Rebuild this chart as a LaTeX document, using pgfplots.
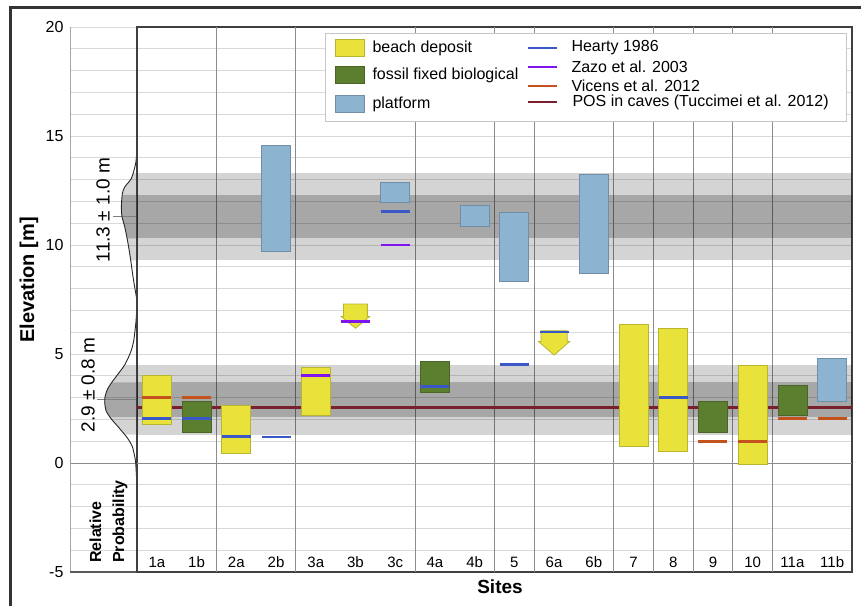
\documentclass[border=0pt]{standalone}
\usepackage{fontspec}
\setmainfont{Liberation Sans}
\usepackage{pgfplots}
\pgfplotsset{compat=1.18}

\definecolor{cbeach}{HTML}{E8E23A}
\definecolor{cfossil}{HTML}{5B7F2F}
\definecolor{cplatf}{HTML}{8CB3D0}
\definecolor{chearty}{HTML}{3A58C6}
\definecolor{czazo}{HTML}{8014F0}
\definecolor{cvicens}{HTML}{C4521C}
\definecolor{cpos}{HTML}{7A1F2C}
\definecolor{csep}{HTML}{8C8C8C}
\definecolor{cgrid}{HTML}{D9D9D9}

% colour, site index, bottom, top
\newcommand{\sitebar}[4]{%
  \pgfmathsetmacro\xl{#2-0.365}\pgfmathsetmacro\xr{#2+0.365}%
  \addplot[fill=#1, draw=#1!80!black, line width=0.8pt] coordinates {(\xl,#3) (\xr,#3) (\xr,#4) (\xl,#4)} -- cycle;}
% colour, site index, elevation
\newcommand{\elev}[3]{%
  \pgfmathsetmacro\xl{#2-0.365}\pgfmathsetmacro\xr{#2+0.365}%
  \addplot[#1, line width=2.6pt] coordinates {(\xl,#3) (\xr,#3)};}
% site, top, neck, tip, half body, half head
\newcommand{\downarr}[6]{%
  \pgfmathsetmacro\xa{#1-#5}\pgfmathsetmacro\xb{#1+#5}%
  \pgfmathsetmacro\xc{#1-#6}\pgfmathsetmacro\xd{#1+#6}%
  \addplot[fill=cbeach, draw=cbeach!80!black, line width=0.8pt] coordinates {(\xa,#2) (\xb,#2) (\xb,#3) (\xd,#3) (#1,#4) (\xc,#3) (\xa,#3)} -- cycle;}

\begin{document}
\begin{tikzpicture}
\useasboundingbox (-137pt,-33pt) rectangle (724pt,572pt);

% relative probability panel
\begin{axis}[
  at={(0pt,0pt)}, anchor=south east, scale only axis,
  width=67pt, height=545pt,
  xmin=0, xmax=67, x dir=reverse, ymin=-5, ymax=20,
  xtick=\empty, ytick={-5,0,...,20}, minor y tick num=4,
  ymajorgrids, yminorgrids,
  major grid style={draw=cgrid, line width=0.8pt},
  minor grid style={draw=cgrid, line width=0.8pt},
  major tick length=0, minor tick length=0,
  axis line style={draw=none},
  /pgf/number format/assume math mode=true,
  yticklabel style={font=\fontsize{16}{18}\selectfont, xshift=-3pt},
]
% 2 sigma and 1 sigma bands right of the curve
\addplot[draw=none, fill=black, fill opacity=0.17] coordinates {(0,1.3) (12.25,1.3) (15,1.45) (19,1.67) (23.5,1.9) (27.3,2.12) (30.5,2.35) (31.8,2.58) (32.3,2.8) (32.2,2.97) (31,3.2) (29,3.43) (25.5,3.68) (22.3,3.88) (17,4.2) (12.3,4.5) (0,4.5)} -- cycle;
\addplot[draw=none, fill=black, fill opacity=0.21] coordinates {(0,2.1) (26.95,2.1) (27.3,2.12) (30.5,2.35) (31.8,2.58) (32.3,2.8) (32.2,2.97) (31,3.2) (29,3.43) (25.5,3.68) (25.2,3.7) (0,3.7)} -- cycle;
\addplot[draw=none, fill=black, fill opacity=0.17] coordinates {(0,9.3) (6.27,9.3) (9,10.08) (12.3,10.84) (15,11.3) (15.6,11.76) (14.6,12.37) (12,12.68) (5.6,13.06) (4.1,13.3) (0,13.3)} -- cycle;
\addplot[draw=none, fill=black, fill opacity=0.21] coordinates {(0,10.3) (9.96,10.3) (12.3,10.84) (15,11.3) (15.6,11.76) (14.7,12.3) (0,12.3)} -- cycle;
\addplot[csep, line width=1pt] coordinates {(67,0) (0,0)};
\addplot[gray, line width=0.7pt] coordinates {(40,2.9) (0,2.9)};
\addplot[gray, line width=0.7pt] coordinates {(24,11.3) (0,11.3)};
\addplot[black!85, line width=0.9pt, smooth] coordinates {
  (0,-5) (0,-1.2) (0.3,-0.8) (0.8,-0.4) (1.5,0.1) (3,0.45) (4.6,0.75)
  (7.5,1.0) (10.6,1.21) (15,1.45) (19,1.67) (23.5,1.9) (27.3,2.12)
  (30.5,2.35) (31.8,2.58) (32.3,2.8) (32.2,2.97) (31,3.2) (29,3.43)
  (25.5,3.68) (22.3,3.88) (17,4.2) (12.3,4.5) (8.5,4.85) (5.6,5.18)
  (3.5,5.55) (2.3,5.95) (1,6.5) (0.3,7.0) (0,7.4) (1.3,7.8) (4,8.55)
  (6.3,9.31) (9,10.08) (12.3,10.84) (15,11.3) (15.6,11.76) (14.6,12.37)
  (12,12.68) (5.6,13.06) (1.3,13.75) (0.3,14.3) (0,14.8) (0,20)};
\draw[gray!70, line width=0.8pt] (axis cs:67,-5) -- (axis cs:67,20);
\draw[black!65, line width=1.1pt] (axis cs:67,-5) -- (axis cs:0,-5);
\end{axis}

% sites panel
\begin{axis}[
  at={(0pt,0pt)}, anchor=south west, scale only axis,
  width=715pt, height=545pt,
  xmin=-0.5, xmax=17.5, ymin=-5, ymax=20,
  xtick={0,...,17},
  xticklabels={1a,1b,2a,2b,3a,3b,3c,4a,4b,5,6a,6b,7,8,9,10,11a,11b},
  ytick={-5,0,...,20}, minor y tick num=4, yticklabels={},
  ymajorgrids, yminorgrids,
  major grid style={draw=cgrid, line width=0.8pt},
  minor grid style={draw=cgrid, line width=0.8pt},
  extra x ticks={1.5,3.5,6.5,8.5,9.5,11.5,12.5,13.5,14.5,15.5},
  extra x tick labels={},
  extra x tick style={grid=major, major grid style={draw=csep, line width=0.9pt}},
  major tick length=0, minor tick length=0,
  axis line style={draw=black!75, line width=1.1pt},
  xticklabel style={font=\fontsize{15}{17}\selectfont, anchor=base, yshift=4.5pt},
]
% grey bands (1 and 2 sigma)
\addplot[draw=none, fill=black, fill opacity=0.17] coordinates {(-0.5,1.3) (17.5,1.3) (17.5,4.5) (-0.5,4.5)} -- cycle;
\addplot[draw=none, fill=black, fill opacity=0.21] coordinates {(-0.5,2.1) (17.5,2.1) (17.5,3.7) (-0.5,3.7)} -- cycle;
\addplot[draw=none, fill=black, fill opacity=0.17] coordinates {(-0.5,9.3) (17.5,9.3) (17.5,13.3) (-0.5,13.3)} -- cycle;
\addplot[draw=none, fill=black, fill opacity=0.21] coordinates {(-0.5,10.3) (17.5,10.3) (17.5,12.3) (-0.5,12.3)} -- cycle;
\addplot[csep, line width=1pt] coordinates {(-0.5,0) (17.5,0)};
% POS in caves
\addplot[cpos, line width=2.6pt] coordinates {(-0.5,2.55) (17.5,2.55)};
% beach deposit
\sitebar{cbeach}{0}{1.77}{4.0}
\sitebar{cbeach}{2}{0.44}{2.66}
\sitebar{cbeach}{4}{2.2}{4.4}
\sitebar{cbeach}{12}{0.78}{6.38}
\sitebar{cbeach}{13}{0.54}{6.16}
\sitebar{cbeach}{15}{-0.06}{4.46}
\downarr{5}{7.29}{6.72}{6.18}{0.3}{0.36}
\downarr{10}{6.07}{5.57}{4.95}{0.33}{0.39}
% fossil fixed biological
\sitebar{cfossil}{1}{1.41}{2.84}
\sitebar{cfossil}{7}{3.22}{4.68}
\sitebar{cfossil}{14}{1.42}{2.81}
\sitebar{cfossil}{16}{2.19}{3.55}
% platform
\sitebar{cplatf}{3}{9.69}{14.59}
\sitebar{cplatf}{6}{11.96}{12.89}
\sitebar{cplatf}{8}{10.86}{11.83}
\sitebar{cplatf}{9}{8.35}{11.48}
\sitebar{cplatf}{11}{8.7}{13.24}
\sitebar{cplatf}{17}{2.84}{4.82}
% Hearty 1986
\elev{chearty}{0}{2.03}
\elev{chearty}{1}{2.03}
\elev{chearty}{2}{1.21}
\elev{chearty}{3}{1.2}
\elev{chearty}{6}{11.53}
\elev{chearty}{7}{3.5}
\elev{chearty}{9}{4.53}
\elev{chearty}{10}{6.0}
\elev{chearty}{13}{3.0}
% Zazo et al. 2003
\elev{czazo}{4}{4.02}
\elev{czazo}{5}{6.5}
\elev{czazo}{6}{10.0}
% Vicens et al. 2012
\elev{cvicens}{0}{3.0}
\elev{cvicens}{1}{3.0}
\elev{cvicens}{14}{1.0}
\elev{cvicens}{15}{1.0}
\elev{cvicens}{16}{2.03}
\elev{cvicens}{17}{2.03}
\end{axis}

\begin{scope}[x=1pt, y=1pt]
% labels
\node[rotate=90, font=\bfseries\fontsize{20}{22}\selectfont] at (-108,292) {Elevation [m]};
\node[font=\bfseries\fontsize{19}{21}\selectfont] at (363,-15) {Sites};
\node[rotate=90, font=\fontsize{19}{21}\selectfont] at (-49,187) {2.9 ± 0.8 m};
\node[rotate=90, font=\fontsize{19}{21}\selectfont] at (-34,362) {11.3 ± 1.0 m};
\node[rotate=90, anchor=west, align=left, inner sep=0pt, font=\bfseries\fontsize{16}{23}\selectfont] at (-28.5,9) {Relative\\Probability};

% legend
\draw[fill=white, draw=gray!45, line width=0.8pt] (188,451) rectangle (709,539);
\fill[cbeach, draw=cbeach!80!black] (198,515.5) rectangle (227,532.5);
\fill[cfossil, draw=cfossil!80!black] (198,488.5) rectangle (227,505.5);
\fill[cplatf, draw=cplatf!80!black] (198,459.5) rectangle (227,476.5);
\begin{scope}[font=\fontsize{16}{18}\selectfont]
\node[anchor=west] at (232,524) {beach deposit};
\node[anchor=west] at (232,497) {fossil fixed biological};
\node[anchor=west] at (232,468) {platform};
\node[anchor=west] at (431,524) {Hearty 1986};
\node[anchor=west] at (431,505) {Zazo et al. 2003};
\node[anchor=west] at (431,486) {Vicens et al. 2012};
\node[anchor=west] at (432,470) {POS in caves (Tuccimei et al. 2012)};
\end{scope}
\draw[chearty, line width=2.6pt] (391,524) -- (420,524);
\draw[czazo, line width=2.6pt] (391,505) -- (420,505);
\draw[cvicens, line width=2.6pt] (391,486) -- (420,486);
\draw[cpos, line width=2.6pt] (391,470) -- (420,470);

% outer frame
\draw[black!80, line width=3pt] (-126,-40) -- (-126,564) -- (730,564);
\end{scope}
\end{tikzpicture}
\end{document}
